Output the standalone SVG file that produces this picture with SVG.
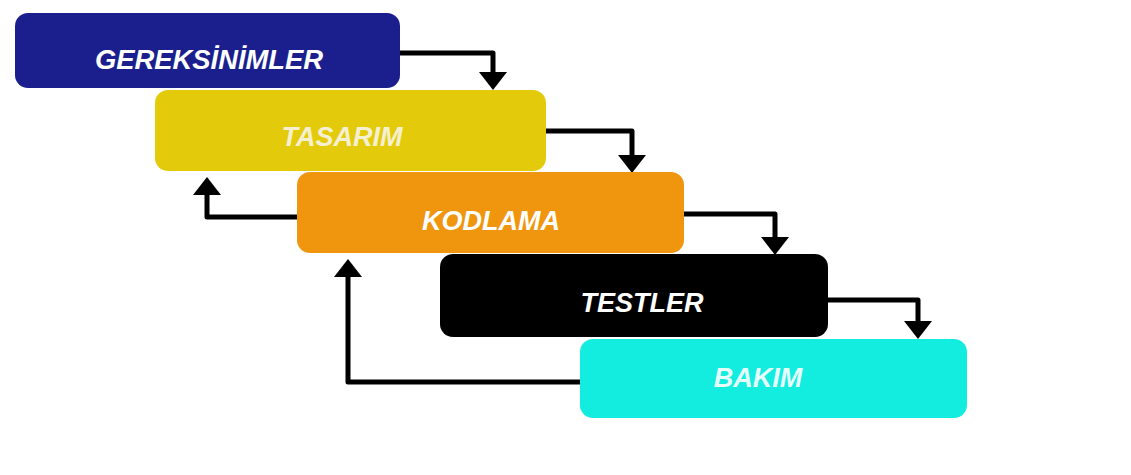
<svg xmlns="http://www.w3.org/2000/svg" width="1131" height="475" viewBox="0 0 1131 475">
<style>
.lbl{font-family:"Liberation Sans",Arial,sans-serif;font-weight:bold;font-style:italic;font-size:27px;text-anchor:middle}
.conn{fill:none;stroke:#000;stroke-width:5;stroke-linejoin:round}
</style>
<defs>
<marker id="ah" markerUnits="userSpaceOnUse" viewBox="0 -15 18 30" refX="0" refY="0" markerWidth="18" markerHeight="30" orient="auto">
<path d="M0,-14 L18,0 L0,14 Z" fill="#000"/>
</marker>
</defs>
<rect width="1131" height="475" fill="#fff"/>
<g id="connectors">
<path class="conn" d="M398,53 H493 V72" marker-end="url(#ah)"/>
<path class="conn" d="M544,131 H632 V155" marker-end="url(#ah)"/>
<path class="conn" d="M682,214 H775 V237" marker-end="url(#ah)"/>
<path class="conn" d="M826,300 H918 V321" marker-end="url(#ah)"/>
<path class="conn" d="M299,217 H207 V195" marker-end="url(#ah)"/>
<path class="conn" d="M582,382 H348 V277" marker-end="url(#ah)"/>
</g>
<g id="gereksinimler">
<rect x="15" y="13" width="385" height="75" rx="13" fill="#1b1f8e"/>
<text class="lbl" x="209" y="69" fill="#fff" font-size="28" textLength="228" lengthAdjust="spacingAndGlyphs">GEREKSİNİMLER</text>
</g>
<g id="tasarim">
<rect x="155" y="90" width="391" height="81" rx="13" fill="#e3cb0c"/>
<text class="lbl" x="342" y="146" fill="#f6f0d2">TASARIM</text>
</g>
<g id="kodlama">
<rect x="297" y="172" width="387" height="81" rx="13" fill="#f0950e"/>
<text class="lbl" x="491" y="230" fill="#fff">KODLAMA</text>
</g>
<g id="testler">
<rect x="440" y="254" width="388" height="83" rx="13" fill="#000"/>
<text class="lbl" x="642" y="312" fill="#fff">TESTLER</text>
</g>
<g id="bakim">
<rect x="580" y="339" width="387" height="79" rx="13" fill="#12ede0"/>
<text class="lbl" x="758" y="387" fill="#e6fffc">BAKIM</text>
</g>
</svg>
